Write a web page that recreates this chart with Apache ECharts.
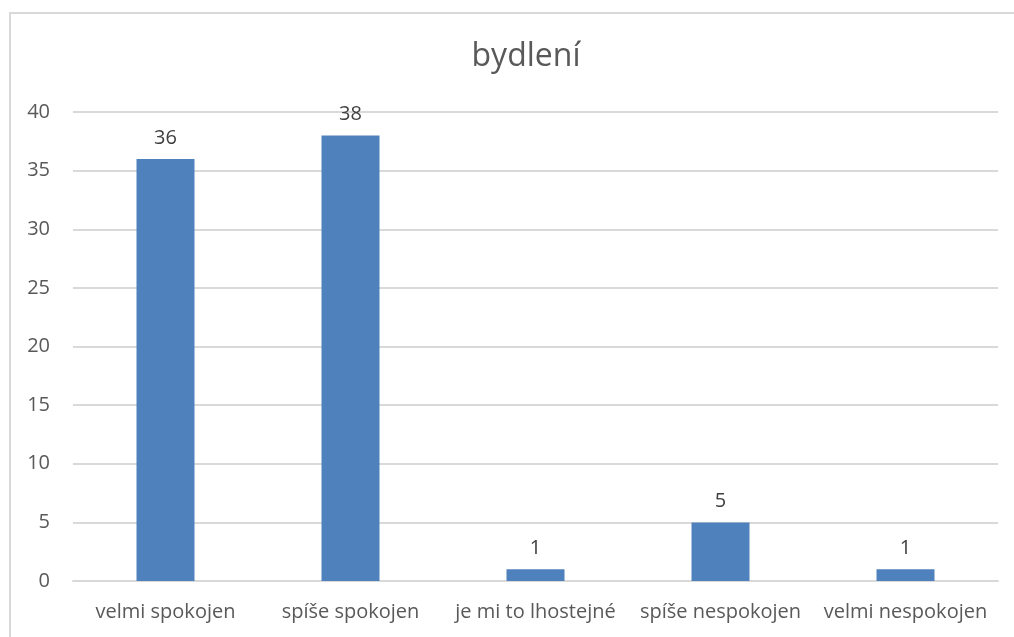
<!DOCTYPE html>
<html>
<head>
<meta charset="utf-8">
<script src="https://cdn.jsdelivr.net/npm/echarts@6/dist/echarts.min.js"></script>
<style>
  html, body { margin: 0; padding: 0; background: #fff; }
  #chart { width: 1014px; height: 637px; }
</style>
</head>
<body>
<div id="chart"></div>
<script>
const categories = ["velmi spokojen", "spíše spokojen", "je mi to lhostejné", "spíše nespokojen", "velmi nespokojen"];
const counts = [36, 38, 1, 5, 1];

const chart = echarts.init(document.getElementById("chart"));
const font = "'Open Sans', 'Noto Sans', sans-serif";

chart.setOption({
  animation: false,
  textStyle: { fontFamily: font },
  title: {
    text: "bydlení",
    left: 521,
    top: 36,
    textAlign: "center",
    textStyle: { color: "#595959", fontSize: 32, fontWeight: "normal", fontFamily: font }
  },
  graphic: [{
    type: "rect",
    shape: { x: 10, y: 13, width: 1030, height: 700 },
    style: { fill: "none", stroke: "#d9d9d9", lineWidth: 2 },
    silent: true
  }],
  grid: { left: 73, right: 16, top: 112, bottom: 56 },
  xAxis: {
    type: "category",
    data: categories,
    axisLine: { lineStyle: { color: "#d9d9d9", width: 2 } },
    axisTick: { show: false },
    axisLabel: { color: "#595959", fontSize: 20, margin: 21, interval: 0, hideOverlap: false, fontFamily: font }
  },
  yAxis: {
    type: "value",
    min: 0,
    max: 40,
    interval: 5,
    axisLine: { show: false },
    axisTick: { show: false },
    splitLine: { lineStyle: { color: "#d9d9d9", width: 2 } },
    axisLabel: { color: "#595959", fontSize: 20, margin: 23, fontFamily: font }
  },
  series: [{
    type: "bar",
    data: counts,
    barWidth: 58,
    itemStyle: { color: "#4f81bd" },
    label: {
      show: true,
      position: "top",
      distance: 11,
      color: "#404040",
      fontSize: 20,
      fontFamily: font
    }
  }]
});
</script>
</body>
</html>
